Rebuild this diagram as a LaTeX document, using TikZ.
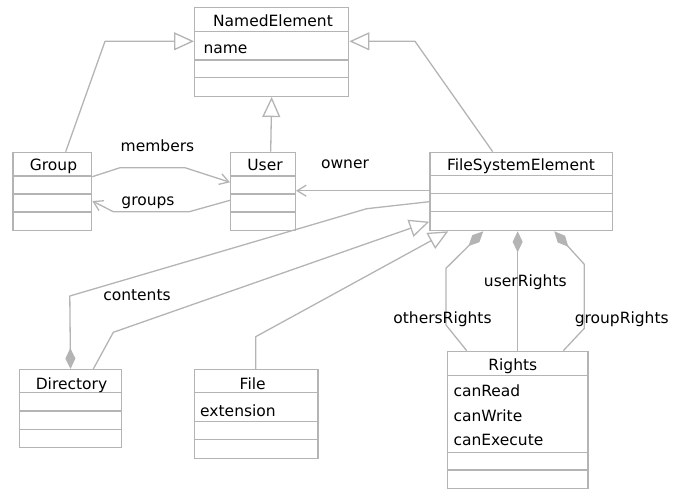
\documentclass[tikz,border=0pt]{standalone}
\usepackage{fontspec}
\setmainfont{DejaVu Sans}
\usetikzlibrary{arrows.meta}
\definecolor{lc}{HTML}{B4B4B4}
\begin{document}
\begin{tikzpicture}[x=1pt,y=-1pt,
  cls/.style 2 args={draw=lc, line width=1.3pt, fill=white, anchor=north west,
    inner sep=0pt, minimum width=#1pt, minimum height=#2pt},
  sep/.style={draw=lc, line width=1.3pt},
  txt/.style={font=\fontsize{15.5}{18}\selectfont, inner sep=0pt, anchor=base},
  attr/.style={txt, anchor=base west},
  conn/.style={draw=lc, line width=1.3pt, line join=round},
  gen/.style={conn, -{Triangle[length=20pt,width=18pt,fill=white]}},
  assoc/.style={conn, -{Straight Barb[length=9pt,width=11pt]}},
  comp/.style={conn, {Diamond[length=21pt,width=10pt]}-}
]
\useasboundingbox (0,0) rectangle (688,490);

% classes
\node[cls={154}{88.7}] (ne) at (194,7) {};
\foreach \d in {24.7,53,70.7} \draw[sep] ([yshift=-\d pt]ne.north west) -- ([yshift=-\d pt]ne.north east);
\node[txt] (neH) at (273,26) {NamedElement};
\node[attr] (neA) at (203.3,53.3) {name};

\node[cls={78.7}{78.3}] (grp) at (12.3,151.7) {};
\foreach \d in {24.3,42.3,60.3} \draw[sep] ([yshift=-\d pt]grp.north west) -- ([yshift=-\d pt]grp.north east);
\node[txt] (grpH) at (53.5,170.7) {Group};

\node[cls={64.7}{78.3}] (usr) at (230,151.7) {};
\foreach \d in {24.3,42.3,60.3} \draw[sep] ([yshift=-\d pt]usr.north west) -- ([yshift=-\d pt]usr.north east);
\node[txt] (usrH) at (265,170.7) {User};

\node[cls={182.4}{78.3}] (fse) at (429.3,151.7) {};
\foreach \d in {24,42,60} \draw[sep] ([yshift=-\d pt]fse.north west) -- ([yshift=-\d pt]fse.north east);
\node[txt] (fseH) at (521,170.7) {FileSystemElement};

\node[cls={102.3}{78}] (dir) at (18.7,369) {};
\foreach \d in {23.7,42,60.3} \draw[sep] ([yshift=-\d pt]dir.north west) -- ([yshift=-\d pt]dir.north east);
\node[txt] (dirH) at (71.5,389) {Directory};

\node[cls={123.6}{88.7}] (fil) at (193.7,369) {};
\foreach \d in {23.7,52.3,70.7} \draw[sep] ([yshift=-\d pt]fil.north west) -- ([yshift=-\d pt]fil.north east);
\node[txt] (filH) at (252.7,389) {File};
\node[attr] (filA) at (200,416) {extension};

\node[cls={140.6}{137}] (rts) at (446.7,350.7) {};
\foreach \d in {25,101.6,119.3} \draw[sep] ([yshift=-\d pt]rts.north west) -- ([yshift=-\d pt]rts.north east);
\node[txt] (rtsH) at (512.8,370) {Rights};
\node[attr] (rtsA1) at (453.3,396.7) {canRead};
\node[attr] (rtsA2) at (453.3,421.7) {canWrite};
\node[attr] (rtsA3) at (453.3,445) {canExecute};

% generalizations
\draw[gen] (65.7,0 |- grp.north) -- (105,41.3) -- (ne.west |- 0,41.3);
\draw[gen] (270.7,0 |- usr.north) -- (ne.south);
\draw[gen] (492.7,0 |- fse.north) -- (415,41.3) -- (ne.east |- 0,41.3);
\draw[gen] (93.3,0 |- dir.north) -- (113.3,332.3) -- (fse.west |- 0,221.7);
\draw[gen] (255.7,0 |- fil.north) -- (255.7,336.7) -- (448.3,0 |- fse.south);

% associations
\draw[assoc] (grp.east |- 0,176.7) -- (120,167.7) -- (185,167.7) -- (usr.west |- 0,182.3);
\draw[assoc] (usr.west |- 0,200.3) -- (189.3,211.7) -- (113.3,211.7) -- (grp.east |- 0,201);
\draw[assoc] (fse.west |- 0,190.7) -- (usr.east |- 0,190.7);

% compositions
\draw[comp] (dir.north) -- (69.8,296) -- (366.7,208.7) -- (fse.west |- 0,201.7);
\draw[comp] (483.3,0 |- fse.south) -- (446,268.3) -- (446,325) -- (466.7,0 |- rts.north);
\draw[comp] (rts.north |- fse.south) -- (rts.north);
\draw[comp] (554.3,0 |- fse.south) -- (584.3,264.3) -- (584.3,328.3) -- (563.3,0 |- rts.north);

% labels
\node[txt] (lMembers) at (157.5,151.7) {members};
\node[txt] (lGroups) at (148,205) {groups};
\node[txt] (lOwner) at (345,168.3) {owner};
\node[txt] (lContents) at (137,300) {contents};
\node[txt] (lUser) at (525.3,286.7) {userRights};
\node[txt] (lOthers) at (442.5,323.3) {othersRights};
\node[txt] (lGroupR) at (621.7,323.3) {groupRights};
\end{tikzpicture}
\end{document}
